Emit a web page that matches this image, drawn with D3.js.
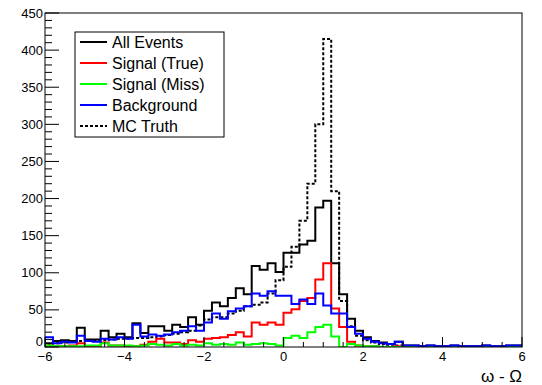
<!DOCTYPE html>
<html>
<head>
<meta charset="utf-8">
<script src="https://cdn.jsdelivr.net/npm/d3@7/dist/d3.min.js"></script>
<style>
  body { margin: 0; background: #fff; }
  svg { display: block; font-family: 'Liberation Sans', Arial, sans-serif; }
  .frame { fill: none; stroke: #000; stroke-width: 1; }
  .hist { fill: none; stroke-width: 2; }
  .axis-label { font-size: 13px; fill: #000; }
</style>
</head>
<body>
<svg id="chart"></svg>
<script>
'use strict';

// histogram binning: 60 bins from -6 to 6
const xMin = -6;
const xMax = 6;
const nBins = 60;

const allEvents = [5, 8, 9, 8, 26, 10, 10, 22, 13, 18, 13, 32, 19, 28, 28, 22, 30, 27, 40, 30,
  49, 60, 55, 66, 79, 71, 109, 104, 113, 101, 127, 127, 138, 143, 188, 197, 113, 71, 38, 22,
  13, 8, 6, 4, 7, 2, 2, 1, 2, 1, 1, 2, 1, 1, 1, 2, 1, 1, 2, 2];
const signalTrue = [2, 1, 1, 2, 5, 1, 1, 6, 2, 2, 1, 1, 3, 7, 11, 6, 6, 4, 9, 7,
  11, 12, 13, 16, 20, 14, 33, 30, 33, 30, 46, 51, 62, 66, 91, 113, 52, 27, 7, 2,
  1, 1, 0, 0, 1, 0, 0, 0, 0, 0, 0, 0, 0, 0, 0, 0, 0, 0, 0, 0];
const signalMiss = [2, 1, 1, 1, 1, 2, 2, 5, 2, 2, 2, 1, 2, 4, 3, 2, 4, 2, 3, 2,
  5, 3, 4, 3, 6, 3, 4, 5, 4, 2, 12, 15, 12, 20, 27, 30, 14, 0, 4, 2,
  1, 1, 0, 0, 0, 0, 0, 0, 0, 0, 0, 0, 0, 0, 0, 0, 0, 0, 0, 0];
const background = [13, 5, 7, 6, 15, 8, 7, 11, 10, 13, 11, 30, 14, 17, 15, 17, 20, 22, 28, 22,
  33, 45, 38, 48, 52, 55, 72, 69, 75, 69, 69, 58, 64, 58, 72, 56, 45, 45, 27, 18,
  11, 7, 5, 4, 7, 2, 2, 1, 2, 1, 1, 2, 1, 1, 1, 2, 1, 1, 2, 2];
const mcTruth = [3, 5, 6, 7, 8, 8, 9, 9, 10, 11, 11, 12, 12, 13, 14, 16, 18, 20, 22, 29,
  37, 40, 40, 45, 49, 55, 57, 60, 72, 90, 108, 135, 170, 220, 300, 415, 210, 62, 28, 15,
  9, 6, 4, 3, 2, 1, 1, 1, 1, 0, 0, 0, 0, 0, 0, 0, 0, 0, 0, 0];

const xTickLabels = [-6, -4, -2, 0, 2, 4, 6];
const yTickLabels = [0, 50, 100, 150, 200, 250, 300, 350, 400, 450];
const xTitle = 'ω - Ω';

const series = [
  { name: 'All Events', values: allEvents, color: '#000000', dash: null },
  { name: 'Signal (True)', values: signalTrue, color: '#ff0000', dash: null },
  { name: 'Signal (Miss)', values: signalMiss, color: '#00ff00', dash: null },
  { name: 'Background', values: background, color: '#0000ff', dash: null },
  { name: 'MC Truth', values: mcTruth, color: '#000000', dash: '3,2' }
];
// drawing order (legend keeps the order above)
const drawOrder = ['All Events', 'MC Truth', 'Signal (True)', 'Signal (Miss)', 'Background'];

const width = 542;
const height = 385;
const margin = { top: 13, right: 20, bottom: 38, left: 45 };
const w = width - margin.left - margin.right;
const h = height - margin.top - margin.bottom;

const svg = d3.select('#chart')
    .attr('width', width)
    .attr('height', height);

svg.append('rect')
    .attr('width', width)
    .attr('height', height)
    .attr('fill', '#fff');

const graph = svg.append('g')
    .attr('transform', `translate(${margin.left}, ${margin.top})`);

const x = d3.scaleLinear().domain([xMin, xMax]).range([0, w]);
const y = d3.scaleLinear().domain([0, 450]).range([h, 0]);

graph.append('clipPath')
    .attr('id', 'frame-clip')
  .append('rect')
    .attr('width', w)
    .attr('height', h);

// bin edges
const binWidth = (xMax - xMin) / nBins;
const edges = d3.range(nBins + 1).map(i => xMin + i * binWidth);

const stepLine = d3.line()
    .x(d => x(d[0]))
    .y(d => y(d[1]))
    .curve(d3.curveStepAfter);

function stepPoints(values) {
  const pts = [[edges[0], 0]];
  values.forEach((v, i) => pts.push([edges[i], v]));
  pts.push([edges[nBins], values[nBins - 1]]);
  pts.push([edges[nBins], 0]);
  return pts;
}

const hists = graph.append('g').attr('clip-path', 'url(#frame-clip)');
drawOrder.forEach(name => {
  const s = series.find(d => d.name === name);
  hists.append('path')
      .attr('class', 'hist')
      .attr('d', stepLine(stepPoints(s.values)))
      .attr('stroke', s.color)
      .attr('stroke-dasharray', s.dash);
});

// axes (ticks pointing inward, ROOT style)
const xAxis = graph.append('g').attr('transform', `translate(0, ${h})`);
xAxis.selectAll('line.minor')
    .data(d3.range(xMin, xMax + 0.001, 0.5))
  .enter().append('line')
    .attr('x1', d => x(d)).attr('x2', d => x(d))
    .attr('y1', 0)
    .attr('y2', d => (Math.abs(d % 2) < 1e-6 ? -10 : -5))
    .attr('stroke', '#000');
xAxis.selectAll('text')
    .data(xTickLabels)
  .enter().append('text')
    .attr('class', 'axis-label')
    .attr('x', d => x(d))
    .attr('y', 14)
    .attr('text-anchor', 'middle')
    .text(d => (d < 0 ? '\u2212' + Math.abs(d) : d));

const yAxis = graph.append('g');
yAxis.selectAll('line')
    .data(d3.range(0, 451, 10))
  .enter().append('line')
    .attr('x1', 0)
    .attr('x2', d => (d % 50 === 0 ? 14 : 7))
    .attr('y1', d => y(d)).attr('y2', d => y(d))
    .attr('stroke', '#000');
yAxis.selectAll('text')
    .data(yTickLabels)
  .enter().append('text')
    .attr('class', 'axis-label')
    .attr('x', -2)
    .attr('y', d => (d === 0 ? y(d) - 6 : y(d)))
    .attr('dy', '0.35em')
    .attr('text-anchor', 'end')
    .text(d => d);

graph.append('rect')
    .attr('class', 'frame')
    .attr('width', w)
    .attr('height', h);

svg.append('text')
    .attr('x', margin.left + w)
    .attr('y', 382)
    .attr('text-anchor', 'end')
    .attr('font-size', 17)
    .text(xTitle);

// legend
const legend = svg.append('g').attr('transform', 'translate(75, 32)');
legend.append('rect')
    .attr('width', 149)
    .attr('height', 105)
    .attr('fill', '#fff')
    .attr('stroke', '#000');

const rows = legend.selectAll('g.row')
    .data(series)
  .enter().append('g')
    .attr('class', 'row')
    .attr('transform', (d, i) => `translate(0, ${10 + i * 21})`);
rows.append('line')
    .attr('x1', 5).attr('x2', 32)
    .attr('stroke', d => d.color)
    .attr('stroke-width', 2)
    .attr('stroke-dasharray', d => d.dash);
rows.append('text')
    .attr('x', 37)
    .attr('dy', '0.35em')
    .attr('font-size', 16)
    .text(d => d.name);
</script>
</body>
</html>
